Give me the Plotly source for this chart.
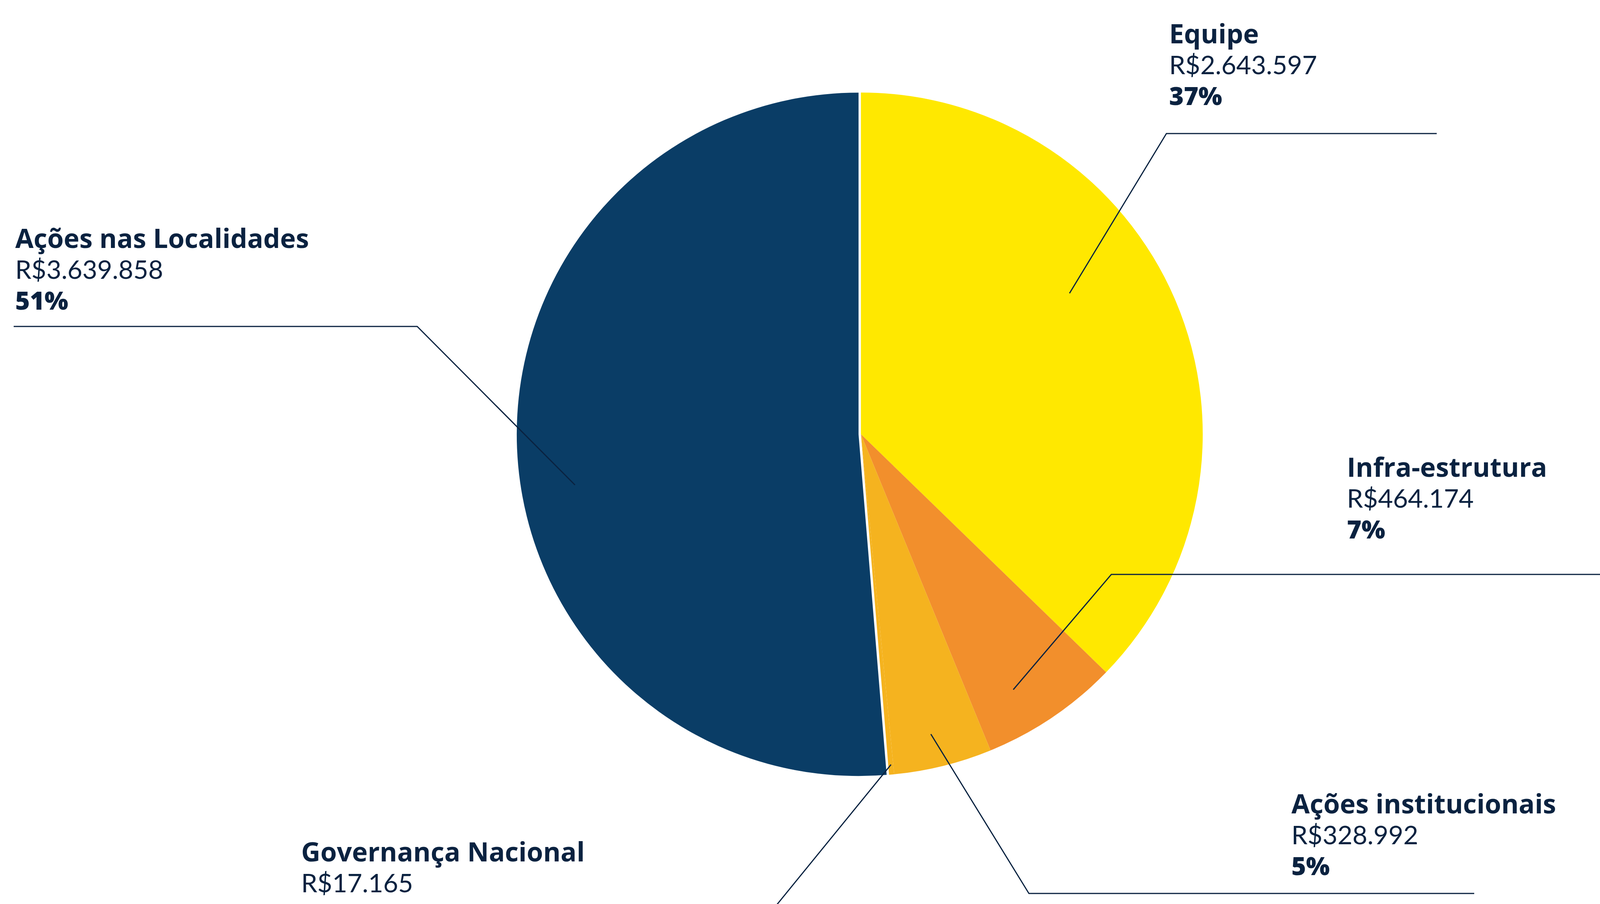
import plotly.graph_objects as go

# ---------------- data ----------------
categories = ["Equipe", "Infra-estrutura", "Ações institucionais",
              "Governança Nacional", "Ações nas Localidades"]
values = [2643597, 464174, 328992, 17165, 3639858]
colors = ["#FFE800", "#F28F2C", "#F5B31F", "#F5B31F", "#0A3D66"]
pulls = [0, 0, 0, 0, 0.007]

W, H = 4188, 2315
TEXT = "#0A2240"

total = sum(values)


def fmt_brl(v):
    return "R$" + f"{v:,}".replace(",", ".")


def fmt_pct(v):
    return f"{round(100 * v / total)}%"


# ---------------- layout helpers (pixel space) ----------------
cx, cy, R = 2204, 1112, 875
half = R * (1 + max(pulls))

# label blocks: left x, centre y of first line, and leader path
label_layout = {
    "Equipe": dict(x=2991, y=84,
                   path=[(2738, 751), (2986, 342), (3678, 342)]),
    "Infra-estrutura": dict(x=3446, y=1194,
                            path=[(2594, 1766), (2845, 1471), (4188, 1471)]),
    "Ações institucionais": dict(x=3304, y=2056,
                                 path=[(2383, 1880), (2634, 2288), (3774, 2288)]),
    "Governança Nacional": dict(x=769, y=2179,
                                path=[(2281, 1958), (1947, 2368), (769, 2368)]),
    "Ações nas Localidades": dict(x=37, y=608,
                                  path=[(1472, 1242), (1068, 836), (35, 836)]),
}
LINE_STEP = 80
line_styles = [
    dict(family="Open Sans", size=68, weight=700),
    dict(family="Lato", size=66, weight=400),
    dict(family="Open Sans", size=64, weight=800),
]

fig = go.Figure()

fig.add_trace(go.Pie(
    labels=categories,
    values=values,
    sort=False,
    direction="clockwise",
    rotation=0,
    pull=pulls,
    marker=dict(colors=colors, line=dict(width=0)),
    textinfo="none",
    hoverinfo="skip",
    showlegend=False,
    domain=dict(x=[(cx - half) / W, (cx + half) / W],
                y=[(H - cy - half) / H, (H - cy + half) / H]),
))

shapes = []
annotations = []
for cat, val in zip(categories, values):
    L = label_layout[cat]
    pts = L["path"]
    d = "M " + " L ".join(f"{x},{y}" for x, y in pts)
    shapes.append(dict(type="path", path=d, xref="x", yref="y",
                       line=dict(color=TEXT, width=3)))
    texts = [cat, fmt_brl(val), fmt_pct(val)]
    for i, (txt, st) in enumerate(zip(texts, line_styles)):
        annotations.append(dict(
            x=L["x"], y=L["y"] + i * LINE_STEP, xref="x", yref="y",
            text=txt, showarrow=False, xanchor="left", yanchor="middle",
            align="left",
            font=dict(color=TEXT, **st),
        ))

fig.update_layout(
    width=W, height=H,
    margin=dict(l=0, r=0, t=0, b=0),
    paper_bgcolor="white", plot_bgcolor="rgba(0,0,0,0)",
    xaxis=dict(range=[0, W], visible=False, domain=[0, 1], fixedrange=True),
    yaxis=dict(range=[H, 0], visible=False, domain=[0, 1], fixedrange=True),
    shapes=shapes,
    annotations=annotations,
)

fig.write_html("out.html", config={"displayModeBar": False},
               post_script="document.body.style.margin='0';"
                           "document.body.style.overflow='hidden';")
